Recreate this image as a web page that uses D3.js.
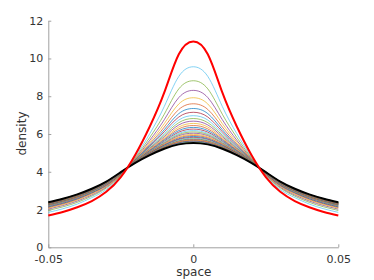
<!DOCTYPE html>
<html>
<head>
<meta charset="utf-8">
<script src="https://cdn.jsdelivr.net/npm/d3@7"></script>
<style>
body { margin: 0; background: #fff; }
svg { display: block; }
text { font-family: "DejaVu Sans", sans-serif; }
</style>
</head>
<body>
<div id="chart"></div>
<script>
const width = 374;
const height = 280;

// sample positions along "space"
const spaceX = [-0.05, -0.045, -0.04, -0.035, -0.03, -0.025, -0.02, -0.015, -0.01, -0.005, 0,
                0.005, 0.01, 0.015, 0.02, 0.025, 0.03, 0.035, 0.04, 0.045, 0.05];

const xTicks = [-0.05, 0, 0.05];
const xTickLabels = ["-0.05", "0", "0.05"];
const yTicks = [0, 2, 4, 6, 8, 10, 12];
const yTickLabels = ["0", "2", "4", "6", "8", "10", "12"];

// initial profile (thick red) and final profile (thick black)
const densityRed = [1.68, 1.87, 2.12, 2.45, 2.94, 3.72, 4.90, 6.40, 8.20, 10.22, 10.90, 10.22, 8.20, 6.40, 4.90, 3.72, 2.94, 2.45, 2.12, 1.87, 1.68];
const densityBlack = [2.38, 2.57, 2.80, 3.10, 3.48, 3.98, 4.47, 4.88, 5.22, 5.45, 5.53, 5.45, 5.22, 4.88, 4.47, 3.98, 3.48, 3.10, 2.80, 2.57, 2.38];

// intermediate profiles, top to bottom
const densitySteps = [
    [1.85, 2.04, 2.29, 2.63, 3.06, 3.79, 4.80, 6.02, 7.46, 9.05, 9.56, 9.05, 7.46, 6.02, 4.80, 3.79, 3.06, 2.63, 2.29, 2.04, 1.85],
    [1.95, 2.14, 2.38, 2.71, 3.14, 3.82, 4.74, 5.82, 7.05, 8.39, 8.82, 8.39, 7.05, 5.82, 4.74, 3.82, 3.14, 2.71, 2.38, 2.14, 1.95],
    [2.02, 2.21, 2.45, 2.77, 3.19, 3.85, 4.69, 5.67, 6.76, 7.93, 8.31, 7.93, 6.76, 5.67, 4.69, 3.85, 3.19, 2.77, 2.45, 2.21, 2.02],
    [2.07, 2.26, 2.50, 2.82, 3.23, 3.86, 4.67, 5.57, 6.55, 7.59, 7.92, 7.59, 6.55, 5.57, 4.67, 3.86, 3.23, 2.82, 2.50, 2.26, 2.07],
    [2.11, 2.30, 2.54, 2.86, 3.26, 3.88, 4.64, 5.48, 6.37, 7.30, 7.60, 7.30, 6.37, 5.48, 4.64, 3.88, 3.26, 2.86, 2.54, 2.30, 2.11],
    [2.14, 2.33, 2.57, 2.89, 3.29, 3.89, 4.62, 5.41, 6.23, 7.08, 7.35, 7.08, 6.23, 5.41, 4.62, 3.89, 3.29, 2.89, 2.57, 2.33, 2.14],
    [2.17, 2.36, 2.60, 2.91, 3.31, 3.90, 4.60, 5.35, 6.12, 6.90, 7.15, 6.90, 6.12, 5.35, 4.60, 3.90, 3.31, 2.91, 2.60, 2.36, 2.17],
    [2.19, 2.38, 2.62, 2.93, 3.33, 3.91, 4.59, 5.30, 6.02, 6.74, 6.97, 6.74, 6.02, 5.30, 4.59, 3.91, 3.33, 2.93, 2.62, 2.38, 2.19],
    [2.21, 2.40, 2.64, 2.95, 3.35, 3.92, 4.58, 5.26, 5.94, 6.60, 6.82, 6.60, 5.94, 5.26, 4.58, 3.92, 3.35, 2.95, 2.64, 2.40, 2.21],
    [2.23, 2.42, 2.65, 2.97, 3.36, 3.92, 4.56, 5.22, 5.86, 6.48, 6.68, 6.48, 5.86, 5.22, 4.56, 3.92, 3.36, 2.97, 2.65, 2.42, 2.23],
    [2.25, 2.44, 2.67, 2.98, 3.37, 3.93, 4.55, 5.18, 5.79, 6.37, 6.56, 6.37, 5.79, 5.18, 4.55, 3.93, 3.37, 2.98, 2.67, 2.44, 2.25],
    [2.26, 2.45, 2.68, 2.99, 3.38, 3.94, 4.54, 5.15, 5.73, 6.27, 6.45, 6.27, 5.73, 5.15, 4.54, 3.94, 3.38, 2.99, 2.68, 2.45, 2.26],
    [2.27, 2.46, 2.70, 3.00, 3.39, 3.94, 4.54, 5.12, 5.68, 6.18, 6.35, 6.18, 5.68, 5.12, 4.54, 3.94, 3.39, 3.00, 2.70, 2.46, 2.27],
    [2.29, 2.48, 2.71, 3.01, 3.40, 3.95, 4.53, 5.09, 5.62, 6.10, 6.26, 6.10, 5.62, 5.09, 4.53, 3.95, 3.40, 3.01, 2.71, 2.48, 2.29],
    [2.30, 2.49, 2.72, 3.02, 3.41, 3.95, 4.52, 5.07, 5.58, 6.03, 6.18, 6.03, 5.58, 5.07, 4.52, 3.95, 3.41, 3.02, 2.72, 2.49, 2.30],
    [2.30, 2.49, 2.73, 3.03, 3.42, 3.95, 4.52, 5.05, 5.54, 5.97, 6.11, 5.97, 5.54, 5.05, 4.52, 3.95, 3.42, 3.03, 2.73, 2.49, 2.30],
    [2.31, 2.50, 2.74, 3.04, 3.43, 3.96, 4.51, 5.03, 5.50, 5.91, 6.04, 5.91, 5.50, 5.03, 4.51, 3.96, 3.43, 3.04, 2.74, 2.50, 2.31],
    [2.32, 2.51, 2.74, 3.05, 3.43, 3.96, 4.51, 5.01, 5.47, 5.85, 5.98, 5.85, 5.47, 5.01, 4.51, 3.96, 3.43, 3.05, 2.74, 2.51, 2.32],
    [2.33, 2.52, 2.75, 3.05, 3.44, 3.96, 4.50, 4.99, 5.44, 5.80, 5.92, 5.80, 5.44, 4.99, 4.50, 3.96, 3.44, 3.05, 2.75, 2.52, 2.33],
    [2.34, 2.53, 2.76, 3.06, 3.45, 3.96, 4.50, 4.98, 5.41, 5.75, 5.87, 5.75, 5.41, 4.98, 4.50, 3.96, 3.45, 3.06, 2.76, 2.53, 2.34],
    [2.34, 2.53, 2.76, 3.07, 3.45, 3.97, 4.49, 4.97, 5.38, 5.71, 5.82, 5.71, 5.38, 4.97, 4.49, 3.97, 3.45, 3.07, 2.76, 2.53, 2.34],
    [2.35, 2.54, 2.77, 3.07, 3.45, 3.97, 4.49, 4.95, 5.36, 5.67, 5.78, 5.67, 5.36, 4.95, 4.49, 3.97, 3.45, 3.07, 2.77, 2.54, 2.35],
    [2.35, 2.54, 2.77, 3.08, 3.46, 3.97, 4.49, 4.94, 5.34, 5.64, 5.74, 5.64, 5.34, 4.94, 4.49, 3.97, 3.46, 3.08, 2.77, 2.54, 2.35],
    [2.36, 2.55, 2.78, 3.08, 3.46, 3.97, 4.48, 4.93, 5.32, 5.61, 5.71, 5.61, 5.32, 4.93, 4.48, 3.97, 3.46, 3.08, 2.78, 2.55, 2.36],
    [2.36, 2.55, 2.78, 3.08, 3.46, 3.97, 4.48, 4.92, 5.30, 5.58, 5.68, 5.58, 5.30, 4.92, 4.48, 3.97, 3.46, 3.08, 2.78, 2.55, 2.36],
    [2.36, 2.55, 2.78, 3.09, 3.47, 3.97, 4.48, 4.92, 5.29, 5.56, 5.65, 5.56, 5.29, 4.92, 4.48, 3.97, 3.47, 3.09, 2.78, 2.55, 2.36],
    [2.37, 2.56, 2.79, 3.09, 3.47, 3.98, 4.48, 4.91, 5.27, 5.53, 5.62, 5.53, 5.27, 4.91, 4.48, 3.98, 3.47, 3.09, 2.79, 2.56, 2.37],
    [2.37, 2.56, 2.79, 3.09, 3.47, 3.98, 4.48, 4.90, 5.26, 5.51, 5.60, 5.51, 5.26, 4.90, 4.48, 3.98, 3.47, 3.09, 2.79, 2.56, 2.37],
    [2.37, 2.56, 2.79, 3.09, 3.47, 3.98, 4.47, 4.89, 5.25, 5.49, 5.58, 5.49, 5.25, 4.89, 4.47, 3.98, 3.47, 3.09, 2.79, 2.56, 2.37],
    [2.38, 2.57, 2.80, 3.10, 3.48, 3.98, 4.47, 4.89, 5.24, 5.47, 5.56, 5.47, 5.24, 4.89, 4.47, 3.98, 3.48, 3.10, 2.80, 2.57, 2.38]
];

// matlab colour order, cycled backwards from the top curve
const stepColors = ["#4DBEEE", "#77AC30", "#7E2F8E", "#EDB120", "#D95319", "#0072BD", "#A2142F"];

const svg = d3.select("#chart")
    .append("svg")
    .attr("width", width)
    .attr("height", height);

const x = d3.scaleLinear()
    .domain([-0.05, 0.05])
    .range([48.3, 338.3]);

const y = d3.scaleLinear()
    .domain([0, 12])
    .range([247.3, 20.7]);

const line = d3.line()
    .x((d, i) => x(spaceX[i]))
    .y(d => y(d))
    .curve(d3.curveNatural);

// axes
const xAxis = svg.append("g")
    .attr("transform", `translate(0, ${y(0)})`)
    .call(d3.axisBottom(x)
        .tickValues(xTicks)
        .tickFormat((d, i) => xTickLabels[i])
        .tickSizeInner(-3)
        .tickSizeOuter(0)
        .tickPadding(7.5));

const yAxis = svg.append("g")
    .attr("transform", `translate(${x(-0.05)}, 0)`)
    .call(d3.axisLeft(y)
        .tickValues(yTicks)
        .tickFormat((d, i) => yTickLabels[i])
        .tickSizeInner(-3)
        .tickSizeOuter(0)
        .tickPadding(5));

[xAxis, yAxis].forEach(g => {
    g.select(".domain").attr("stroke", "#a0a0a0");
    g.selectAll(".tick line").attr("stroke", "#a0a0a0");
    g.selectAll(".tick text")
        .attr("fill", "#333")
        .attr("font-size", "11px")
        .attr("font-family", "DejaVu Sans, sans-serif");
});

// curves
svg.append("g")
    .selectAll("path")
    .data(densitySteps)
    .enter().append("path")
    .attr("fill", "none")
    .attr("stroke", (d, i) => stepColors[i % stepColors.length])
    .attr("stroke-width", 0.7)
    .attr("d", line);

svg.append("path")
    .datum(densityBlack)
    .attr("fill", "none")
    .attr("stroke", "#000")
    .attr("stroke-width", 2)
    .attr("d", line);

svg.append("path")
    .datum(densityRed)
    .attr("fill", "none")
    .attr("stroke", "#ff0000")
    .attr("stroke-width", 2)
    .attr("d", line);

// labels
svg.append("text")
    .attr("x", 193.8)
    .attr("y", 275.5)
    .attr("text-anchor", "middle")
    .attr("font-size", "12px")
    .attr("fill", "#333")
    .text("space");

svg.append("text")
    .attr("transform", "translate(25.5, 133.5) rotate(-90)")
    .attr("text-anchor", "middle")
    .attr("font-size", "12px")
    .attr("fill", "#333")
    .text("density");
</script>
</body>
</html>
